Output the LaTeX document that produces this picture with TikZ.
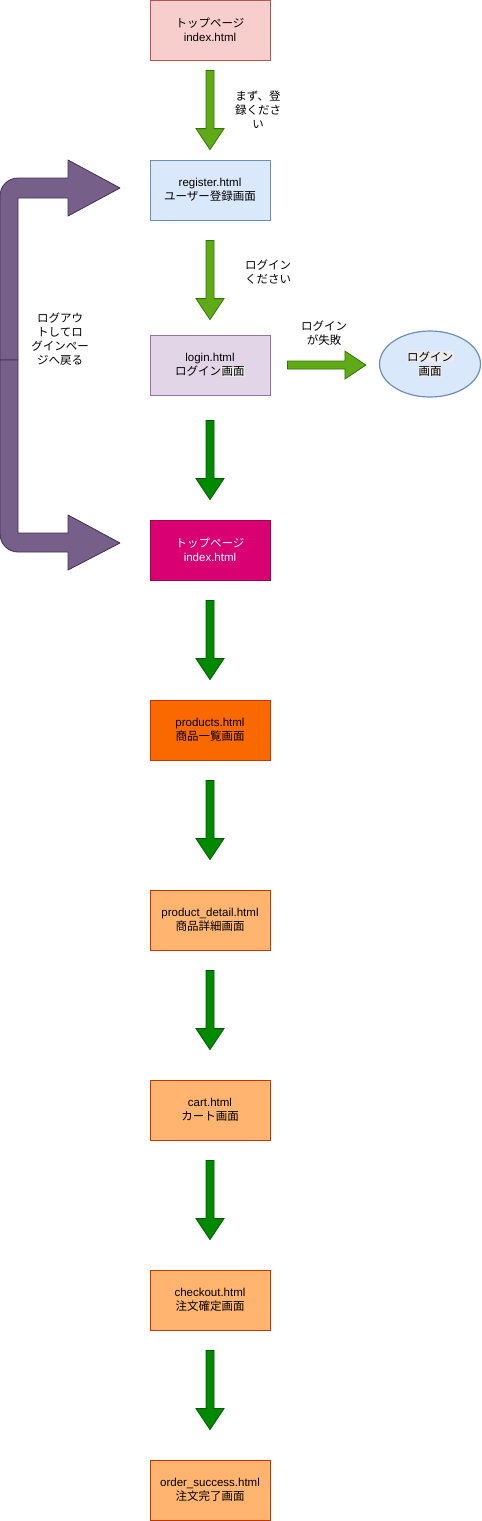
\documentclass[tikz,border=0pt]{standalone}
\usepackage{fontspec}
\setmainfont{Liberation Sans}
\newfontfamily\jp{Noto Sans CJK JP}
\usepackage{tikz}
\usetikzlibrary{shapes.geometric, calc}

\definecolor{redfill}{HTML}{F8CECC}
\definecolor{redline}{HTML}{B85450}
\definecolor{bluefill}{HTML}{DAE8FC}
\definecolor{blueline}{HTML}{6C8EBF}
\definecolor{lilacfill}{HTML}{E1D5E7}
\definecolor{lilacline}{HTML}{9673A6}
\definecolor{magentafill}{HTML}{D80073}
\definecolor{magentaline}{HTML}{A50040}
\definecolor{orangefill}{HTML}{FA6800}
\definecolor{orangeline}{HTML}{C73500}
\definecolor{peachfill}{HTML}{FFB570}
\definecolor{peachline}{HTML}{C73500}
\definecolor{grapefill}{HTML}{76608A}
\definecolor{grapeline}{HTML}{432D57}
\definecolor{limefill}{HTML}{60A917}
\definecolor{limeline}{HTML}{2D7600}
\definecolor{leaffill}{HTML}{008A00}
\definecolor{leafline}{HTML}{005700}
\definecolor{hl}{HTML}{EBEBEB}

\tikzset{
  pagebox/.style={draw, line width=0.8pt, minimum width=120pt, minimum height=60pt,
    align=center, font=\fontsize{11.5}{14.5}\selectfont},
  note/.style={align=center, font=\fontsize{11.5}{14}\selectfont},
  limearrow/.style={fill=limefill, draw=limeline, line width=0.8pt},
  leafarrow/.style={fill=leaffill, draw=leafline, line width=0.8pt},
  grapearrow/.style={fill=grapefill, draw=grapeline, line width=0.8pt, line join=round}
}

% block arrow from #2 to #3
\newcommand{\blockarrow}[3]{%
  \path (#2) coordinate (ba-s) (#3) coordinate (ba-e) ($(ba-e)!21pt!(ba-s)$) coordinate (ba-h);
  \draw[#1] ($(ba-s)!4pt!90:(ba-e)$) -- ($(ba-h)!4pt!-90:(ba-s)$) -- ($(ba-h)!14pt!-90:(ba-s)$)
    -- (ba-e) -- ($(ba-h)!14pt!90:(ba-s)$) -- ($(ba-h)!4pt!90:(ba-s)$)
    -- ($(ba-s)!4pt!-90:(ba-e)$) -- cycle;}

\begin{document}
\begin{tikzpicture}[x=1pt, y=-1pt]
\useasboundingbox (0,0) rectangle (482,1521);
\setlength{\fboxsep}{0.5pt}

% pages
\node[pagebox, fill=redfill, draw=redline] (top) at (210,30) {{\jp トップページ}\\index.html};
\node[pagebox, fill=bluefill, draw=blueline] (register) at (210,190) {register.html\\{\jp ユーザー登録画面}};
\node[pagebox, fill=lilacfill, draw=lilacline] (login) at (210,365) {login.html\\{\jp ログイン\colorbox{hl}{画面}}};
\node[pagebox, fill=magentafill, draw=magentaline, text=white] (home) at (210,550) {{\jp トップページ}\\index.html};
\node[pagebox, fill=orangefill, draw=orangeline] (products) at (210,730) {products.html\\{\jp 商品一覧画面}};
\node[pagebox, fill=peachfill, draw=peachline] (detail) at (210,920) {product\_detail.html\\{\jp 商品詳細画面}};
\node[pagebox, fill=peachfill, draw=peachline] (cart) at (210,1110) {cart.html\\{\jp カート画面}};
\node[pagebox, fill=peachfill, draw=peachline] (checkout) at (210,1300) {checkout.html\\{\jp 注文確定画面}};
\node[pagebox, fill=peachfill, draw=peachline] (success) at (210,1490) {order\_success.html\\{\jp 注文完了画面}};

% login failed
\node[ellipse, draw=blueline, fill=bluefill, line width=1.2pt, minimum width=101pt, minimum height=66pt,
  align=center, font=\fontsize{11.5}{14.5}\selectfont] (failed) at (430,364)
  {{\jp\colorbox{hl}{ログイン}}\\{\jp\colorbox{hl}{画面}}};

% labels
\node[note] (firstnote) at (258,110) {\jp まず、登\\\jp 録くださ\\\jp い};
\node[note] (loginnote) at (268,272) {\jp ログイン\\\jp ください};
\node[note] (failnote) at (324,333) {\jp ログイン\\\jp が失敗};
\node[note] (logoutnote) at (60,339) {\jp ログアウ\\\jp トしてロ\\\jp グインペー\\\jp ジへ戻る};

% flow arrows
\blockarrow{limearrow}{[yshift=-10pt]top.south}{[yshift=10pt]register.north}
\blockarrow{limearrow}{[yshift=-20pt]register.south}{[yshift=15pt]login.north}
\blockarrow{limearrow}{[xshift=17pt]login.east}{[xshift=-13pt]failed.west |- login.east}
\blockarrow{leafarrow}{[yshift=-25pt]login.south}{[yshift=20pt]home.north}
\blockarrow{leafarrow}{[yshift=-20pt]home.south}{[yshift=20pt]products.north}
\blockarrow{leafarrow}{[yshift=-20pt]products.south}{[yshift=30pt]detail.north}
\blockarrow{leafarrow}{[yshift=-20pt]detail.south}{[yshift=30pt]cart.north}
\blockarrow{leafarrow}{[yshift=-20pt]cart.south}{[yshift=30pt]checkout.north}
\blockarrow{leafarrow}{[yshift=-20pt]checkout.south}{[yshift=30pt]success.north}

% logout arrows back to the pages
\draw[grapearrow] (0,360) -- (0,196) arc(180:90:18pt) -- (68,178) -- (68,160) -- (120,188)
  -- (68,216) -- (68,198) -- (18,198) -- (18,360) -- cycle;
\draw[grapearrow] (0,360) -- (0,534) arc(180:270:18pt) -- (68,552) -- (68,570) -- (120,543)
  -- (68,515) -- (68,533) -- (18,533) -- (18,360) -- cycle;

\end{tikzpicture}
\end{document}
